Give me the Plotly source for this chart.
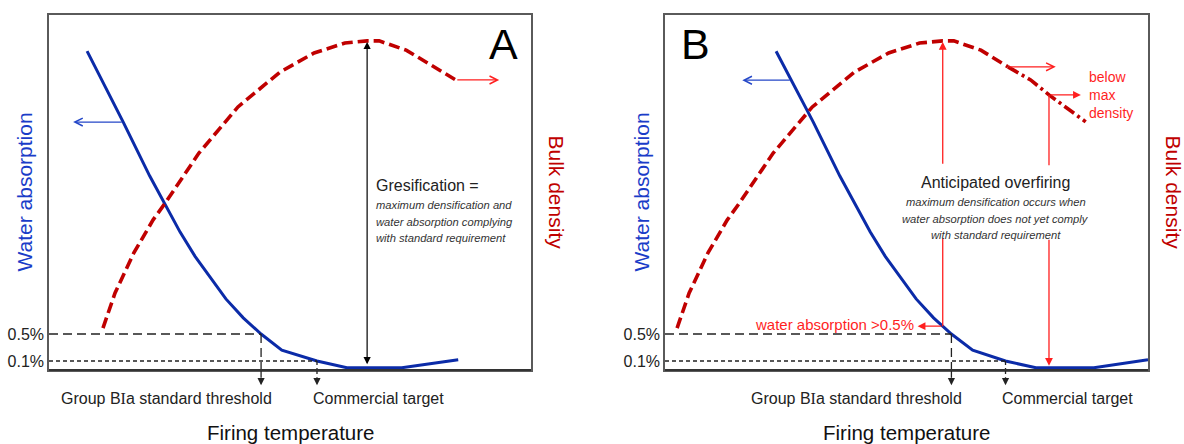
import numpy as np
import plotly.graph_objects as go

W, H = 1184, 444

# ---------------- data ----------------
# Firing temperature on a relative 0-100 scale across each frame.
# Panel A: gresification
temp_wa_a = [7.9, 15.4, 20.9, 24.1, 27.2, 30.3, 33.4, 36.7, 40.3, 44.0, 48.3, 55.6, 61.8, 73.2, 84.9]
wa_a = [4.69, 3.64, 2.84, 2.41, 2.01, 1.65, 1.34, 1.02, 0.74, 0.50, 0.26, 0.10, 0.0, 0.0, 0.12]
temp_bd_a = [11.2, 13.7, 17.6, 21.6, 24.1, 31.1, 39.2, 47.9, 55.0, 61.4, 66.0, 68.5, 74.1, 79.7, 84.4]
bd_a = [11.8, 21.7, 33.0, 42.3, 47.0, 61.1, 74.1, 83.9, 89.3, 92.1, 92.7, 92.7, 90.1, 85.4, 81.7]

# Panel B: anticipated overfiring
temp_wa_b = [23.0, 30.7, 36.2, 39.4, 42.5, 45.6, 48.7, 52.0, 55.6, 59.3, 63.7, 70.5, 76.8, 88.8, 100.0]
wa_b = [4.69, 3.64, 2.84, 2.41, 2.01, 1.65, 1.34, 1.02, 0.74, 0.50, 0.26, 0.10, 0.0, 0.0, 0.12]
temp_bd_b = [2.5, 5.0, 8.9, 12.9, 15.4, 22.4, 30.5, 39.2, 46.3, 52.7, 57.5, 59.8, 65.4, 71.0]
bd_b = [11.8, 21.7, 33.0, 42.3, 47.0, 61.1, 74.1, 83.9, 89.3, 92.1, 92.7, 92.7, 90.1, 85.4]
temp_bd_b_over = [71.0, 75.7, 79.5, 87.1]
bd_b_over = [85.4, 81.7, 77.5, 69.9]

# Water absorption limits (%) and the temperatures where each curve reaches them
wa_limits = [0.5, 0.1]
wa_limit_labels = ["0.5%", "0.1%"]
limit_temps_a = [44.0, 55.6]
limit_temps_b = [59.3, 70.5]

T_RANGE = [0, 100]
WA_RANGE = [-0.033, 5.226]
BD_RANGE = [0, 100]

# ---------------- styling ----------------
FONT = "Liberation Sans, Arial, sans-serif"
BLUE = "#0B2BA8"
BLUE_TXT = "#1A3CC8"
BLUE_ARW = "#2447C8"
DARKRED = "#C00000"
RED = "#FF1F1F"
INK = "#222222"
BOX = "#5a5a5a"
NOTE_FONT = dict(family=FONT, size=11.2, color="#333333")


def P(xpx, ypx):
    return xpx / W, 1 - ypx / H


fig = go.Figure()

panels = [
    dict(x="x", y="y", y2="y2", twa=temp_wa_a, wa=wa_a, tbd=temp_bd_a, bd=bd_a, lim=limit_temps_a),
    dict(x="x2", y="y3", y2="y4", twa=temp_wa_b, wa=wa_b, tbd=temp_bd_b, bd=bd_b, lim=limit_temps_b),
]

for p in panels:
    fig.add_trace(go.Scatter(x=p["tbd"], y=p["bd"], xaxis=p["x"], yaxis=p["y2"], mode="lines",
                             line=dict(color=DARKRED, width=3.6, dash="11px,5px"),
                             hoverinfo="skip", showlegend=False))
    fig.add_trace(go.Scatter(x=p["twa"], y=p["wa"], xaxis=p["x"], yaxis=p["y"], mode="lines",
                             line=dict(color=BLUE, width=3), hoverinfo="skip", showlegend=False))

# density beyond its maximum in panel B
fig.add_trace(go.Scatter(x=temp_bd_b_over, y=bd_b_over, xaxis="x2", yaxis="y4", mode="lines",
                         line=dict(color=DARKRED, width=3.6, dash="12px,4px,3px,4px"),
                         hoverinfo="skip", showlegend=False))

shapes = []
annotations = []

dash_styles = ["9px,5px", "4px,3px"]
for p in panels:
    xr, yr = p["x"], p["y"]
    yd = yr + " domain"
    for lim, t, dsh in zip(wa_limits, p["lim"], dash_styles):
        line = dict(color=INK, width=1.3, dash=dsh)
        # horizontal guide from the frame to the curve
        shapes.append(dict(type="line", xref=xr, yref=yr, x0=T_RANGE[0], x1=t, y0=lim, y1=lim, line=line))
        # vertical guide down to the axis
        shapes.append(dict(type="line", xref=xr, yref=yr, x0=t, x1=t, y0=lim, y1=WA_RANGE[0], line=line))
        # continuation below the axis
        shapes.append(dict(type="line", xref=xr, yref=yd, x0=t, x1=t, y0=0, y1=-0.022, line=line))
        annotations.append(dict(xref=xr, yref=yd, x=t, y=-0.043, text="", showarrow=True,
                                ax=0, ay=-7, arrowhead=2, arrowsize=1.2, arrowwidth=1.2,
                                arrowcolor=INK, standoff=0))
    # bottom axis drawn darker than the frame
    shapes.append(dict(type="line", xref=xr + " domain", yref=yd, x0=0, x1=1, y0=0, y1=0,
                       line=dict(color="#333333", width=2)))
    # bottom labels
    annotations.append(dict(xref=xr, yref="paper", x=p["lim"][0], y=P(0, 398)[1], xanchor="right",
                            yanchor="middle", xshift=13, showarrow=False,
                            text="Group B<span style='font-family:Liberation Serif'>I</span>a standard threshold",
                            font=dict(family=FONT, size=16, color=INK)))
    annotations.append(dict(xref=xr, yref="paper", x=p["lim"][1], y=P(0, 398)[1], xanchor="left",
                            yanchor="middle", xshift=-6, showarrow=False, text="Commercial target",
                            font=dict(family=FONT, size=16, color=INK)))
    annotations.append(dict(xref=xr + " domain", yref="paper", x=0.5, y=P(0, 432)[1], xanchor="center",
                            yanchor="middle", showarrow=False, text="Firing temperature",
                            font=dict(family=FONT, size=20.5, color="#111111")))

# side titles
for xc, txt, ang, col in [(24, "Water absorption", -90, BLUE_TXT), (556, "Bulk density", 90, DARKRED),
                          (641, "Water absorption", -90, BLUE_TXT), (1173, "Bulk density", 90, DARKRED)]:
    annotations.append(dict(xref="paper", yref="paper", x=xc / W, y=P(0, 192.5)[1], text=txt,
                            textangle=ang, showarrow=False, xanchor="center", yanchor="middle",
                            font=dict(family=FONT, size=21, color=col)))

# panel letters
for xc, letter in [(503, "A"), (695, "B")]:
    annotations.append(dict(xref="paper", yref="paper", x=xc / W, y=P(0, 44)[1], text=letter,
                            showarrow=False, xanchor="center", yanchor="middle",
                            font=dict(family=FONT, size=43, color="black")))

# ---- panel A annotations ----
wa_ptr_a = 3.64
t_ptr_a = float(np.interp(wa_ptr_a, wa_a[:8][::-1], temp_wa_a[:8][::-1]))
annotations.append(dict(xref="x", yref="y", x=5.0, y=wa_ptr_a, axref="x", ayref="y", ax=t_ptr_a, ay=wa_ptr_a,
                        text="", showarrow=True, arrowhead=5, arrowsize=1.2, arrowwidth=1.3,
                        arrowcolor=BLUE_ARW))
annotations.append(dict(xref="x", yref="y2", x=93.4, y=bd_a[-1], axref="x", ayref="y2", ax=temp_bd_a[-1],
                        ay=bd_a[-1], text="", showarrow=True, arrowhead=5, arrowsize=1.2, arrowwidth=1.3,
                        arrowcolor=RED))

i_pk_a = int(np.argmax(bd_a))
t_pk_a, bd_pk_a = temp_bd_a[i_pk_a], bd_a[i_pk_a]
# water-absorption floor expressed on the density axis (both axes share the same frame)
floor_a = (min(wa_a) - WA_RANGE[0]) / (WA_RANGE[1] - WA_RANGE[0]) * (BD_RANGE[1] - BD_RANGE[0]) + BD_RANGE[0]
annotations.append(dict(xref="x", yref="y2", x=t_pk_a, y=bd_pk_a, axref="x", ayref="y2", ax=t_pk_a, ay=floor_a,
                        text="", showarrow=True, arrowhead=2, startarrowhead=2, arrowside="end+start",
                        arrowsize=1.2, startarrowsize=1.2, arrowwidth=1.2, arrowcolor="black",
                        standoff=1, startstandoff=2))
annotations.append(dict(xref="x", yref="paper", x=t_pk_a, y=P(0, 186)[1], xshift=7, xanchor="left",
                        yanchor="middle", showarrow=False, text="Gresification =",
                        font=dict(family=FONT, size=16, color=INK)))
for ypx, line_txt in [(205, "maximum densification and"), (222, "water absorption complying"),
                      (238, "with standard requirement")]:
    annotations.append(dict(xref="x", yref="paper", x=t_pk_a, y=P(0, ypx)[1], xshift=7, xanchor="left",
                            yanchor="middle", showarrow=False, text="<i>" + line_txt + "</i>",
                            font=NOTE_FONT))

# ---- panel B annotations ----
wa_ptr_b = 4.26
t_ptr_b = float(np.interp(wa_ptr_b, wa_b[:8][::-1], temp_wa_b[:8][::-1]))
annotations.append(dict(xref="x2", yref="y3", x=16.0, y=wa_ptr_b, axref="x2", ayref="y3", ax=t_ptr_b,
                        ay=wa_ptr_b, text="", showarrow=True, arrowhead=5, arrowsize=1.2, arrowwidth=1.3,
                        arrowcolor=BLUE_ARW))
annotations.append(dict(xref="x2", yref="y4", x=80.9, y=bd_b[-1], axref="x2", ayref="y4", ax=temp_bd_b[-1],
                        ay=bd_b[-1], text="", showarrow=True, arrowhead=5, arrowsize=1.2, arrowwidth=1.3,
                        arrowcolor=RED))

i_pk_b = int(np.argmax(bd_b))
t_pk_b, bd_pk_b = temp_bd_b[i_pk_b], bd_b[i_pk_b]
wa_at_pk_b = float(np.interp(t_pk_b, temp_wa_b, wa_b))
t_low, bd_low = temp_bd_b_over[2], bd_b_over[2]
gap_top_bd = 57.7     # red guides break around the text block
gap_bottom_wa = 1.92
red_line = dict(color=RED, width=1.3)

# left guide: density maximum down to the water-absorption curve
annotations.append(dict(xref="x2", yref="y4", x=t_pk_b, y=bd_pk_b, axref="x2", ayref="y4", ax=t_pk_b,
                        ay=gap_top_bd, text="", showarrow=True, arrowhead=2, arrowsize=1.2, arrowwidth=1.3,
                        arrowcolor=RED, standoff=1))
shapes.append(dict(type="line", xref="x2", yref="y3", x0=t_pk_b, x1=t_pk_b, y0=gap_bottom_wa, y1=wa_at_pk_b,
                   line=red_line))
annotations.append(dict(xref="x2", yref="y3", x=52.3, y=wa_at_pk_b, axref="x2", ayref="y3", ax=t_pk_b,
                        ay=wa_at_pk_b, text="", showarrow=True, arrowhead=2, arrowsize=1.2, arrowwidth=1.3,
                        arrowcolor=RED, standoff=0))
annotations.append(dict(xref="x2", yref="y3", x=52.3, y=wa_at_pk_b, xanchor="right", yanchor="middle",
                        xshift=-2, yshift=2, showarrow=False, text="water absorption >0.5%",
                        font=dict(family=FONT, size=15, color=RED)))

# right guide: lower density reached when water absorption meets the target
shapes.append(dict(type="line", xref="x2", yref="y4", x0=t_low, x1=t_low, y0=bd_low, y1=gap_top_bd,
                   line=red_line))
annotations.append(dict(xref="x2", yref="y3", x=t_low, y=min(wa_b), axref="x2", ayref="y3", ax=t_low,
                        ay=gap_bottom_wa, text="", showarrow=True, arrowhead=2, arrowsize=1.2, arrowwidth=1.3,
                        arrowcolor=RED, standoff=2))
annotations.append(dict(xref="x2", yref="y4", x=86.1, y=bd_low, axref="x2", ayref="y4", ax=t_low, ay=bd_low,
                        text="", showarrow=True, arrowhead=2, arrowsize=1.2, arrowwidth=1.3,
                        arrowcolor=RED, standoff=0))
annotations.append(dict(xref="paper", yref="y4", x=1087 / W, y=bd_low, xanchor="left", yanchor="middle",
                        showarrow=False, align="left", text="below<br>max<br>density",
                        font=dict(family=FONT, size=14, color=RED)))

t_mid_b = (t_pk_b + t_low) / 2
annotations.append(dict(xref="x2", yref="paper", x=t_mid_b, y=P(0, 182)[1], xanchor="center",
                        yanchor="middle", showarrow=False, text="Anticipated overfiring",
                        font=dict(family=FONT, size=16, color=INK)))
for ypx, line_txt in [(202, "maximum densification occurs when"), (219, "water absorption does not yet comply"),
                      (235, "with standard requirement")]:
    annotations.append(dict(xref="x2", yref="paper", x=t_mid_b, y=P(0, ypx)[1], xanchor="center",
                            yanchor="middle", showarrow=False, text="<i>" + line_txt + "</i>",
                            font=NOTE_FONT))

ydom = [(H - 370) / H, (H - 15) / H]
box = dict(showline=True, mirror=True, linecolor=BOX, linewidth=1.5, showgrid=False, zeroline=False)
xcommon = dict(range=T_RANGE, showticklabels=False, ticks="", **box)
ycommon = dict(range=WA_RANGE, domain=ydom, tickvals=wa_limits, ticktext=wa_limit_labels, ticks="",
               tickfont=dict(family=FONT, size=16, color=INK), **box)
y2common = dict(range=BD_RANGE, showticklabels=False, showgrid=False, zeroline=False, showline=False,
                ticks="")

fig.update_layout(
    width=W, height=H, margin=dict(l=0, r=0, t=0, b=0),
    paper_bgcolor="white", plot_bgcolor="white", showlegend=False,
    xaxis=dict(domain=[49 / W, 531 / W], anchor="y", **xcommon),
    yaxis=dict(anchor="x", **ycommon),
    yaxis2=dict(anchor="x", overlaying="y", side="right", **y2common),
    xaxis2=dict(domain=[665 / W, 1148 / W], anchor="y3", **xcommon),
    yaxis3=dict(anchor="x2", **ycommon),
    yaxis4=dict(anchor="x2", overlaying="y3", side="right", **y2common),
    shapes=shapes, annotations=annotations,
    font=dict(family=FONT),
)

fig.write_html("out.html")
